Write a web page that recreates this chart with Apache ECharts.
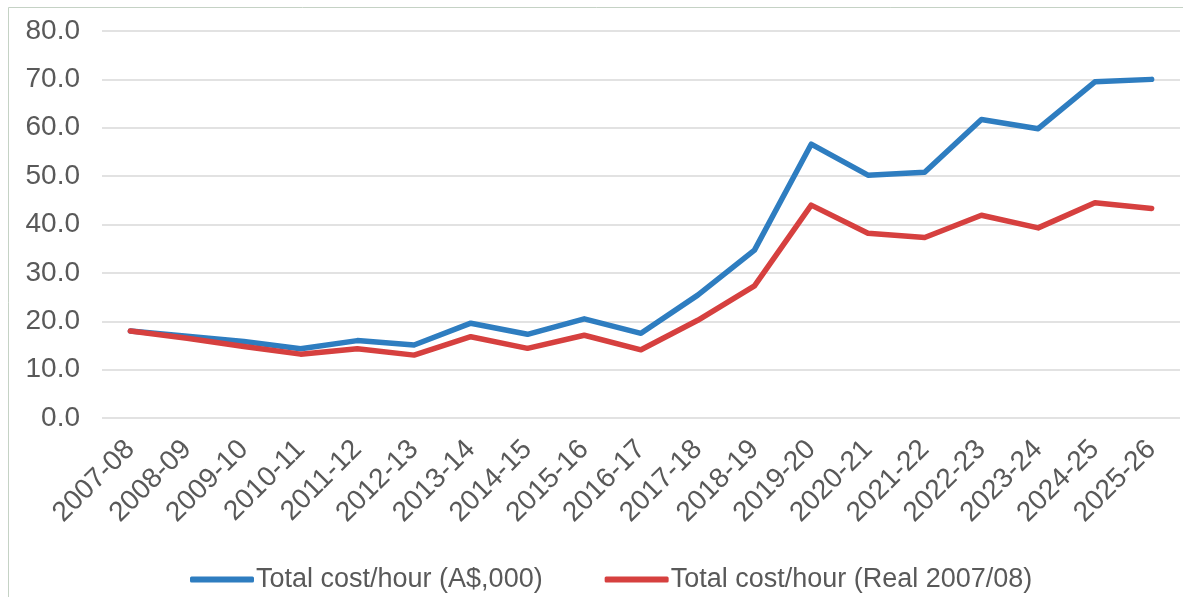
<!DOCTYPE html>
<html>
<head>
<meta charset="utf-8">
<script src="https://cdn.jsdelivr.net/npm/echarts@6/dist/echarts.min.js"></script>
<style>
  html, body { margin: 0; padding: 0; background: #ffffff; }
  #chart { width: 1183px; height: 597px; }
</style>
</head>
<body>
<div id="chart"></div>
<script>
// Financial years on the x axis
const years = [
  '2007-08', '2008-09', '2009-10', '2010-11', '2011-12', '2012-13', '2013-14',
  '2014-15', '2015-16', '2016-17', '2017-18', '2018-19', '2019-20', '2020-21',
  '2021-22', '2022-23', '2023-24', '2024-25', '2025-26'
];

// Total cost per hour, nominal A$ thousands
const nominalCost = [
  18.0, 16.9, 15.8, 14.3, 16.0, 15.1, 19.6, 17.3, 20.5, 17.5,
  25.4, 34.7, 56.6, 50.2, 50.8, 61.7, 59.8, 69.5, 70.0
];

// Total cost per hour, real 2007/08 dollars
const realCost = [
  18.0, 16.5, 14.8, 13.2, 14.3, 13.0, 16.8, 14.4, 17.1, 14.1,
  20.2, 27.3, 44.0, 38.2, 37.3, 41.9, 39.3, 44.5, 43.3
];

const seriesNames = ['Total cost/hour (A$,000)', 'Total cost/hour (Real 2007/08)'];

const chart = echarts.init(document.getElementById('chart'), null, { renderer: 'canvas' });

chart.setOption({
  animation: false,
  backgroundColor: '#ffffff',
  color: ['#2e7dc0', '#d6403f'],
  graphic: [{
    type: 'rect',
    shape: { x: 8.5, y: 7.5, width: 1200, height: 620 },
    style: { fill: 'none', stroke: '#c5d2c5', lineWidth: 1 },
    silent: true,
    z: -1
  }],
  grid: { left: 102, right: 3, top: 31, bottom: 179, containLabel: false },
  legend: {
    left: 185,
    top: 561,
    icon: 'roundRect',
    itemWidth: 64,
    itemHeight: 6,
    itemGap: 62,
    textStyle: {
      fontFamily: '"Liberation Sans Narrow", "Liberation Sans", Arial, sans-serif',
      fontSize: 27,
      color: '#595959',
      padding: [0, 0, 0, -3]
    },
    data: seriesNames
  },
  xAxis: {
    type: 'category',
    data: years,
    boundaryGap: true,
    axisLine: { show: false },
    axisTick: { show: false },
    axisLabel: {
      interval: 0,
      rotate: 45,
      margin: 27,
      fontFamily: '"Liberation Sans", Arial, sans-serif',
      fontSize: 28,
      color: '#595959'
    }
  },
  yAxis: {
    type: 'value',
    min: 0,
    max: 80,
    interval: 10,
    axisLine: { show: false },
    axisTick: { show: false },
    splitLine: { lineStyle: { color: '#d9d9d9', width: 1.5 } },
    axisLabel: {
      formatter: v => v.toFixed(1),
      margin: 22,
      fontFamily: '"Liberation Sans", Arial, sans-serif',
      fontSize: 28,
      color: '#595959'
    }
  },
  series: [
    {
      name: seriesNames[0],
      type: 'line',
      data: nominalCost,
      symbol: 'none',
      lineStyle: { width: 5.5, cap: 'round', join: 'round' },
      z: 2
    },
    {
      name: seriesNames[1],
      type: 'line',
      data: realCost,
      symbol: 'none',
      lineStyle: { width: 5.5, cap: 'round', join: 'round' },
      z: 3
    }
  ]
});
</script>
</body>
</html>
